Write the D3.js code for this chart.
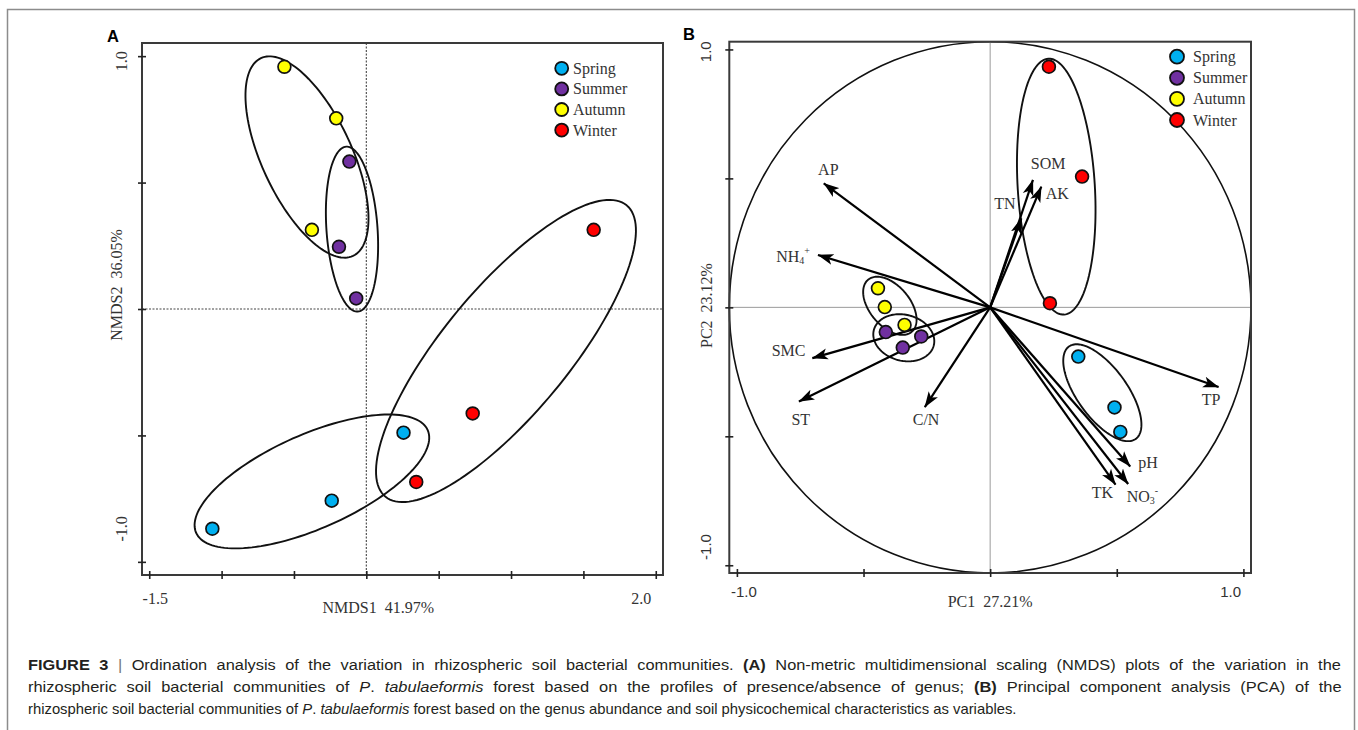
<!DOCTYPE html>
<html>
<head>
<meta charset="utf-8">
<script src="https://cdn.jsdelivr.net/npm/d3@7"></script>
<style>
  body { margin: 0; background: #fff; }
  svg { display: block; }
</style>
</head>
<body>
<div id="my_dataviz"></div>
<script>
// seasons and their colours
var seasons = ["Spring", "Summer", "Autumn", "Winter"];
var seasonColors = ["#00b0f0", "#7030a0", "#ffff00", "#ff0000"];

// panel A : NMDS
var nmdsXDomain = [-1.55, 2.05];
var nmdsYDomain = [-1.052, 1.052];
var nmdsXTicks = [-1.5, -1, -0.5, 0, 0.5, 1, 1.5, 2];
var nmdsYTicks = [-1, -0.5, 0, 0.5, 1];
var nmdsXTickLabels = ["-1.5", "2.0"];
var nmdsXTickValues = [-1.5, 2.0];
var nmdsYTickLabels = ["1.0", "-1.0"];
var nmdsYTickValues = [1.0, -1.0];
var nmdsSeason = ["Autumn", "Autumn", "Autumn", "Summer", "Summer", "Summer", "Winter", "Winter", "Winter", "Spring", "Spring", "Spring"];
var nmds1 = [-0.566, -0.208, -0.376, -0.117, -0.189, -0.070, 1.571, 0.735, 0.345, 0.257, -0.239, -1.064];
var nmds2 = [0.958, 0.754, 0.313, 0.583, 0.246, 0.042, 0.313, -0.413, -0.684, -0.489, -0.758, -0.869];
// group ellipses: centre, first half axis, second half axis (data units)
var nmdsEllSeason = ["Autumn", "Summer", "Winter", "Spring"];
var nmdsEllCentre = [[-0.410, 0.601], [-0.099, 0.316], [0.965, -0.166], [-0.376, -0.682]];
var nmdsEllAxis1 = [[0.318, -0.391], [0.040, -0.326], [0.834, 0.576], [0.800, 0.203]];
var nmdsEllAxis2 = [[-0.282, -0.075], [-0.176, -0.007], [0.333, -0.159], [0.131, -0.170]];

// panel B : PCA
var pcaDomain = [-1.03, 1.03];
var pcaTicks = [-1, -0.5, 0, 0.5, 1];
var pcaTickLabels = ["-1.0", "1.0"];
var pcaTickValues = [-1.0, 1.0];
var pcaCircle = 1.03;
var pcaSeason = ["Winter", "Winter", "Winter", "Autumn", "Autumn", "Autumn", "Summer", "Summer", "Summer", "Spring", "Spring", "Spring"];
var pc1 = [0.232, 0.363, 0.236, -0.443, -0.416, -0.338, -0.412, -0.272, -0.345, 0.348, 0.491, 0.514];
var pc2 = [0.933, 0.507, 0.016, 0.074, 0.001, -0.068, -0.096, -0.113, -0.156, -0.191, -0.388, -0.483];
var pcaEllSeason = ["Winter", "Autumn", "Summer", "Spring"];
var pcaEllCentre = [[0.261, 0.468], [-0.396, 0.006], [-0.341, -0.118], [0.443, -0.331]];
var pcaEllAxis1 = [[0.031, -0.496], [0.086, -0.101], [0.118, -0.031], [0.132, -0.179]];
var pcaEllAxis2 = [[-0.152, -0.009], [-0.061, -0.050], [-0.024, -0.086], [-0.080, -0.057]];
// soil variables (arrows)
var variables = ["AP", "NH4+", "SOM", "AK", "TN", "SMC", "ST", "C/N", "TP", "pH", "TK", "NO3-"];
var loadPC1 = [-0.657, -0.680, 0.169, 0.202, 0.123, -0.702, -0.755, -0.258, 0.902, 0.553, 0.495, 0.545];
var loadPC2 = [0.481, 0.203, 0.494, 0.468, 0.345, -0.197, -0.365, -0.387, -0.309, -0.617, -0.687, -0.685];
var labelPC1 = [-0.639, -0.778, 0.229, 0.265, 0.058, -0.796, -0.748, -0.253, 0.872, 0.623, 0.443, 0.601];
var labelPC2 = [0.533, 0.199, 0.558, 0.440, 0.404, -0.167, -0.436, -0.433, -0.358, -0.603, -0.717, -0.733];

// caption
var captionLines = [
  [["FIGURE 3", "b"], [" ", ""], ["|", "bar"], [" Ordination analysis of the variation in rhizospheric soil bacterial communities. ", ""], ["(A)", "b"], [" Non-metric multidimensional scaling (NMDS) plots of the variation in the", ""]],
  [["rhizospheric soil bacterial communities of ", ""], ["P", "i"], [". ", ""], ["tabulaeformis", "i"], [" forest based on the profiles of presence/absence of genus; ", ""], ["(B)", "b"], [" Principal component analysis (PCA) of the", ""]],
  [["rhizospheric soil bacterial communities of ", ""], ["P", "i"], [". ", ""], ["tabulaeformis", "i"], [" forest based on the genus abundance and soil physicochemical characteristics as variables.", ""]]
];
var captionWidths = [1314, 1314, 989];
var captionJustify = [true, true, false];

var W = 1358, H = 730;
var serif = "'Liberation Serif', 'Times New Roman', serif";
var sans = "'Liberation Sans', Arial, sans-serif";

var svg = d3.select("#my_dataviz").append("svg")
    .attr("width", W).attr("height", H);
svg.append("rect").attr("width", W).attr("height", H).attr("fill", "#fff");
svg.append("rect").attr("x", 7.5).attr("y", 9.5).attr("width", 1347).attr("height", 740)
    .attr("fill", "none").attr("stroke", "#8c8c8c").attr("stroke-width", 1.5);

var color = d3.scaleOrdinal().domain(seasons).range(seasonColors);

function ellipsePath(x, y, c, u, v) {
  var pts = d3.range(0, 145).map(function(i) {
    var t = i / 144 * 2 * Math.PI;
    return [c[0] + Math.cos(t) * u[0] + Math.sin(t) * v[0],
            c[1] + Math.cos(t) * u[1] + Math.sin(t) * v[1]];
  });
  return d3.line().x(function(d) { return x(d[0]); }).y(function(d) { return y(d[1]); })(pts) + "Z";
}

function rotLabel(g, x, y, txt, font, size) {
  g.append("text").attr("x", x).attr("y", y)
    .attr("transform", "rotate(-90," + x + "," + y + ")")
    .attr("text-anchor", "middle").attr("dominant-baseline", "central")
    .attr("xml:space", "preserve")
    .style("font-family", font).style("font-size", size + "px").attr("fill", "#333")
    .text(txt);
}

function legend(g, x0, y0, step, textX, r) {
  var lg = g.append("g");
  seasons.forEach(function(s, i) {
    lg.append("circle").attr("cx", x0).attr("cy", y0 + i * step).attr("r", r)
      .attr("fill", color(s)).attr("stroke", "#111").attr("stroke-width", 1.8);
    lg.append("text").attr("x", textX).attr("y", y0 + i * step)
      .attr("dominant-baseline", "central")
      .style("font-family", serif).style("font-size", "16px").attr("fill", "#333")
      .text(s);
  });
}

// ---------------- Panel A ----------------
var a = {left: 142, top: 43, width: 521, height: 532};
var xA = d3.scaleLinear().domain(nmdsXDomain).range([a.left, a.left + a.width]);
var yA = d3.scaleLinear().domain(nmdsYDomain).range([a.top + a.height, a.top]);
var gA = svg.append("g");

gA.append("line").attr("x1", xA(0)).attr("x2", xA(0)).attr("y1", a.top).attr("y2", a.top + a.height)
  .attr("stroke", "#444").attr("stroke-width", 1.1).attr("stroke-dasharray", "2,1.5");
gA.append("line").attr("x1", a.left).attr("x2", a.left + a.width).attr("y1", yA(0)).attr("y2", yA(0))
  .attr("stroke", "#444").attr("stroke-width", 1.1).attr("stroke-dasharray", "2,1.5");

nmdsEllSeason.forEach(function(s, i) {
  gA.append("path").attr("d", ellipsePath(xA, yA, nmdsEllCentre[i], nmdsEllAxis1[i], nmdsEllAxis2[i]))
    .attr("fill", "none").attr("stroke", "#111").attr("stroke-width", 1.9);
});

gA.append("g").selectAll("circle").data(nmds1).enter().append("circle")
  .attr("cx", function(d) { return xA(d); })
  .attr("cy", function(d, i) { return yA(nmds2[i]); })
  .attr("r", 6.4)
  .attr("fill", function(d, i) { return color(nmdsSeason[i]); })
  .attr("stroke", "#111").attr("stroke-width", 1.7);

gA.append("rect").attr("x", a.left).attr("y", a.top).attr("width", a.width).attr("height", a.height)
  .attr("fill", "none").attr("stroke", "#3a3a3a").attr("stroke-width", 2);

var axA1 = gA.append("g").attr("transform", "translate(0," + (a.top + a.height - 4) + ")")
  .call(d3.axisBottom(xA).tickValues(nmdsXTicks).tickSize(8).tickFormat(""));
var axA2 = gA.append("g").attr("transform", "translate(" + (a.left + 4) + ",0)")
  .call(d3.axisLeft(yA).tickValues(nmdsYTicks).tickSize(8).tickFormat(""));
[axA1, axA2].forEach(function(ax) {
  ax.select(".domain").remove();
  ax.selectAll("line").attr("stroke", "#222").attr("stroke-width", 1.6);
});

var nudgeAx = [6, -14.5], nudgeAy = [5, -33];
nmdsXTickLabels.forEach(function(t, i) {
  gA.append("text").attr("x", xA(nmdsXTickValues[i]) + nudgeAx[i]).attr("y", 598)
    .attr("text-anchor", "middle").attr("dominant-baseline", "central")
    .style("font-family", serif).style("font-size", "16px").attr("fill", "#333").text(t);
});
nmdsYTickLabels.forEach(function(t, i) {
  rotLabel(gA, 122, yA(nmdsYTickValues[i]) + nudgeAy[i], t, serif, 16);
});
gA.append("text").attr("x", xA(0) + 12).attr("y", 607)
  .attr("text-anchor", "middle").attr("dominant-baseline", "central")
  .style("font-family", serif).style("font-size", "16px").attr("fill", "#333")
  .attr("xml:space", "preserve").text("NMDS1  41.97%");
rotLabel(gA, 116, 285, "NMDS2  36.05%", serif, 16);

legend(gA, 561.7, 68.3, 20.6, 573, 6.5);

gA.append("text").attr("x", 107).attr("y", 41.7)
  .style("font-family", sans).style("font-size", "16.5px").style("font-weight", "bold")
  .attr("fill", "#000").text("A");

// ---------------- Panel B ----------------
var b = {left: 729.3, top: 41.7, width: 521.7, height: 531.3};
var xB = d3.scaleLinear().domain(pcaDomain).range([b.left, b.left + b.width]);
var yB = d3.scaleLinear().domain(pcaDomain).range([b.top + b.height, b.top]);
var gB = svg.append("g");

var defs = svg.append("defs");
defs.append("marker").attr("id", "arrow")
  .attr("markerUnits", "userSpaceOnUse")
  .attr("viewBox", "0 0 16 12").attr("refX", 15.5).attr("refY", 6)
  .attr("markerWidth", 16).attr("markerHeight", 12).attr("orient", "auto")
  .append("path").attr("d", "M0,0.5 L16,6 L0,11.5 L4,6 Z").attr("fill", "#000");

gB.append("ellipse").attr("cx", xB(0)).attr("cy", yB(0))
  .attr("rx", xB(pcaCircle) - xB(0)).attr("ry", yB(0) - yB(pcaCircle))
  .attr("fill", "none").attr("stroke", "#111").attr("stroke-width", 1.6);

gB.append("line").attr("x1", xB(0)).attr("x2", xB(0)).attr("y1", b.top).attr("y2", b.top + b.height)
  .attr("stroke", "#9a9a9a").attr("stroke-width", 1);
gB.append("line").attr("x1", b.left).attr("x2", b.left + b.width).attr("y1", yB(0)).attr("y2", yB(0))
  .attr("stroke", "#9a9a9a").attr("stroke-width", 1);

gB.append("rect").attr("x", b.left).attr("y", b.top).attr("width", b.width).attr("height", b.height)
  .attr("fill", "none").attr("stroke", "#3a3a3a").attr("stroke-width", 2);

var axB1 = gB.append("g").attr("transform", "translate(0," + (b.top + b.height - 4) + ")")
  .call(d3.axisBottom(xB).tickValues(pcaTicks).tickSize(8).tickFormat(""));
var axB2 = gB.append("g").attr("transform", "translate(" + (b.left + 4) + ",0)")
  .call(d3.axisLeft(yB).tickValues(pcaTicks).tickSize(8).tickFormat(""));
[axB1, axB2].forEach(function(ax) {
  ax.select(".domain").remove();
  ax.selectAll("line").attr("stroke", "#222").attr("stroke-width", 1.6);
});

pcaEllSeason.forEach(function(s, i) {
  gB.append("path").attr("d", ellipsePath(xB, yB, pcaEllCentre[i], pcaEllAxis1[i], pcaEllAxis2[i]))
    .attr("fill", "none").attr("stroke", "#111").attr("stroke-width", 1.9);
});

gB.append("g").selectAll("line").data(variables).enter().append("line")
  .attr("x1", xB(0)).attr("y1", yB(0))
  .attr("x2", function(d, i) { return xB(loadPC1[i]); })
  .attr("y2", function(d, i) { return yB(loadPC2[i]); })
  .attr("stroke", "#000").attr("stroke-width", 2.2)
  .attr("marker-end", "url(#arrow)");

gB.append("g").selectAll("circle").data(pc1).enter().append("circle")
  .attr("cx", function(d) { return xB(d); })
  .attr("cy", function(d, i) { return yB(pc2[i]); })
  .attr("r", 6.4)
  .attr("fill", function(d, i) { return color(pcaSeason[i]); })
  .attr("stroke", "#111").attr("stroke-width", 1.7);

variables.forEach(function(v, i) {
  var t = gB.append("text").attr("x", xB(labelPC1[i])).attr("y", yB(labelPC2[i]))
    .attr("text-anchor", "middle").attr("dominant-baseline", "central")
    .style("font-family", serif).style("font-size", "16px").attr("fill", "#333");
  if (v === "NH4+") {
    t.append("tspan").text("NH");
    t.append("tspan").attr("dy", 4).style("font-size", "10px").text("4");
    t.append("tspan").attr("dy", -10).style("font-size", "10px").text("+");
  } else if (v === "NO3-") {
    t.append("tspan").text("NO");
    t.append("tspan").attr("dy", 4).style("font-size", "10px").text("3");
    t.append("tspan").attr("dy", -10).style("font-size", "10px").text("-");
  } else {
    t.text(v);
  }
});

var nudgeBx = [7, -12.7], nudgeBy = [-18.3, 2.3];
pcaTickLabels.forEach(function(t, i) {
  gB.append("text").attr("x", xB(pcaTickValues[i]) + nudgeBx[i]).attr("y", 591.7)
    .attr("text-anchor", "middle").attr("dominant-baseline", "central")
    .style("font-family", sans).style("font-size", "15px").attr("fill", "#333").text(t);
  rotLabel(gB, 706, yB(pcaTickValues[i]) + nudgeBy[i], t, sans, 15);
});
gB.append("text").attr("x", xB(0)).attr("y", 601.7)
  .attr("text-anchor", "middle").attr("dominant-baseline", "central")
  .style("font-family", serif).style("font-size", "16px").attr("fill", "#333")
  .attr("xml:space", "preserve").text("PC1  27.21%");
rotLabel(gB, 706, 305.5, "PC2  23.12%", serif, 16);

legend(gB, 1177, 56.7, 21.1, 1193, 7);

gB.append("text").attr("x", 683).attr("y", 40)
  .style("font-family", sans).style("font-size", "16.5px").style("font-weight", "bold")
  .attr("fill", "#000").text("B");

// ---------------- Caption ----------------
// narrow face imitated by a horizontal squeeze; full lines are justified
var capY = [670, 692, 713.5];
var capTexts = captionLines.map(function(line, li) {
  var g = svg.append("g");
  var t = g.append("text").attr("x", 0).attr("y", 0).attr("xml:space", "preserve")
    .style("font-family", "'Liberation Sans', Arial, sans-serif")
    .style("font-size", "14.5px").attr("fill", "#231f20");
  line.forEach(function(p) {
    var s = t.append("tspan").text(p[0]);
    if (p[1] === "b") s.style("font-weight", "bold");
    if (p[1] === "i") s.style("font-style", "italic");
    if (p[1] === "bar") s.attr("fill", "#777");
  });
  return {g: g, t: t, line: line, w: t.node().getComputedTextLength()};
});
var lastSqueeze = captionWidths[2] / capTexts[2].w;
capTexts.forEach(function(c, li) {
  if (captionJustify[li]) {
    var sq = (captionWidths[li] / c.w + lastSqueeze) / 2;
    var spaces = c.line.map(function(p) { return p[0]; }).join("").split(" ").length - 1;
    c.t.style("word-spacing", ((captionWidths[li] / sq - c.w) / spaces) + "px");
    var w2 = c.t.node().getComputedTextLength();
    c.g.attr("transform", "translate(28," + capY[li] + ") scale(" + (captionWidths[li] / w2) + ",1)");
  } else {
    c.g.attr("transform", "translate(28," + capY[li] + ") scale(" + lastSqueeze + ",1)");
  }
});
</script>
</body>
</html>
